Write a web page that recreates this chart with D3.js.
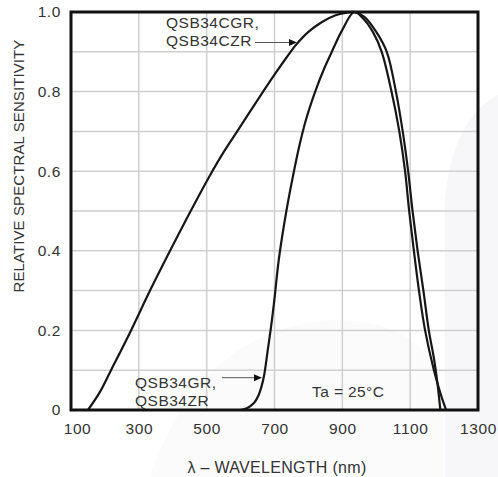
<!DOCTYPE html>
<html><head><meta charset="utf-8">
<script src="https://cdn.jsdelivr.net/npm/d3@7"></script>
<style>
html,body{margin:0;padding:0;background:#fff;}
svg{display:block;font-family:"Liberation Sans",Arial,Helvetica,sans-serif;}
</style></head>
<body><svg id="c" width="498" height="477"></svg>
<script>
// Wavelength (nm) and relative sensitivity
const wlCGR  = [150,185,218,277,333,392,451,510,550,590,651,702,735,764,800,840,880,910,935,965,1000,1031,1058,1078,1094,1107,1122,1139,1155,1170,1180,1189];
const valCGR = [0,0.045,0.1,0.2,0.3,0.4,0.497,0.59,0.648,0.70,0.78,0.845,0.885,0.918,0.95,0.975,0.992,0.998,1.0,0.988,0.95,0.9,0.8,0.7,0.6,0.5,0.4,0.3,0.2,0.13,0.07,0];
const wlGR   = [600,620,640,652,662,670,680,690,700,713,735,755,775,793,820,845,869,900,935,960,990,1016,1045,1068,1085,1097,1111,1126,1144,1170,1190,1206];
const valGR  = [0,0.005,0.018,0.035,0.06,0.09,0.15,0.21,0.28,0.38,0.5,0.59,0.67,0.73,0.8,0.855,0.9,0.955,1.0,0.985,0.95,0.9,0.8,0.7,0.6,0.5,0.4,0.3,0.2,0.1,0.04,0];
const xTicks = [100,300,500,700,900,1100,1300];
const yTicks = [0,0.2,0.4,0.6,0.8,1.0];
const xGrid  = [300,500,700,900,1100];
const yGrid  = [0.1,0.2,0.3,0.4,0.5,0.6,0.7,0.8,0.9];

const svg = d3.select("#c");
const x = d3.scaleLinear().domain([100,1300]).range([71,478]);
const y = d3.scaleLinear().domain([0,1]).range([410,12]);

// faint background watermark shapes
svg.append("path").attr("d","M445,477 L445,200 Q452,120 498,95 L498,477 Z").attr("fill","#f7f6f9");
svg.append("path").attr("d","M150,477 Q200,330 330,320 Q430,318 445,400 L445,477 Z").attr("fill","#fbfbfc");

// grid
svg.append("g").selectAll("line").data(xGrid).join("line")
  .attr("x1",d=>x(d)).attr("x2",d=>x(d)).attr("y1",y(0)).attr("y2",y(1))
  .attr("stroke","#cfcfcf").attr("stroke-width",1.5);
svg.append("g").selectAll("line").data(yGrid).join("line")
  .attr("y1",d=>y(d)).attr("y2",d=>y(d)).attr("x1",x(100)).attr("x2",x(1300))
  .attr("stroke","#cfcfcf").attr("stroke-width",1.5);

// curves
const line = d3.line().x(d=>x(d[0])).y(d=>y(d[1])).curve(d3.curveCatmullRom.alpha(0.5));
svg.append("path").datum(wlCGR.map((w,i)=>[w,valCGR[i]])).attr("d",line)
  .attr("fill","none").attr("stroke","#161616").attr("stroke-width",2.2);
svg.append("path").datum(wlGR.map((w,i)=>[w,valGR[i]])).attr("d",line)
  .attr("fill","none").attr("stroke","#161616").attr("stroke-width",2.2);

// frame
svg.append("rect").attr("x",x(100)).attr("y",y(1)).attr("width",x(1300)-x(100)).attr("height",y(0)-y(1))
  .attr("fill","none").attr("stroke","#111").attr("stroke-width",3);

// axes
const fmt = d=> d===0 ? "0" : d3.format(".1f")(d);
const ya = svg.append("g").attr("transform",`translate(${x(100)},0)`)
  .call(d3.axisLeft(y).tickValues(yTicks).tickFormat(fmt).tickSize(0).tickPadding(10));
const xa = svg.append("g").attr("transform",`translate(0,${y(0)})`)
  .call(d3.axisBottom(x).tickValues(xTicks).tickFormat(d3.format("d")).tickSize(0).tickPadding(13));
[ya,xa].forEach(a=>{a.select(".domain").remove();
  a.selectAll("text").attr("font-size",15.5).attr("fill","#333").attr("font-family","Liberation Sans, Arial, sans-serif").style("letter-spacing","0.6px");});
xa.selectAll("text").filter(d=>d===100).attr("dx",6);

// titles
svg.append("text").attr("x",277).attr("y",473).attr("text-anchor","middle")
  .attr("font-size",16).attr("fill","#333").style("letter-spacing","0.3px").text("λ – WAVELENGTH (nm)");
svg.append("text").attr("transform","translate(24,166) rotate(-90)").attr("text-anchor","middle")
  .attr("font-size",15).attr("fill","#333").style("letter-spacing","0.1px").text("RELATIVE SPECTRAL SENSITIVITY");

// annotations
const ann = (lines,x0,y0)=>{const t=svg.append("text").attr("font-size",15.5).attr("fill","#333").style("letter-spacing","0.5px");
  lines.forEach((s,i)=>t.append("tspan").attr("x",x0).attr("y",y0+i*17.5).text(s));};
ann(["QSB34CGR,","QSB34CZR"],166,28);
ann(["QSB34GR,","QSB34ZR"],135,388);
svg.append("text").attr("x",312).attr("y",397).attr("font-size",15.5).attr("fill","#333").style("letter-spacing","0.4px").text("Ta = 25°C");

const arrow = (x1,x2,yy)=>{
  svg.append("line").attr("x1",x1).attr("x2",x2-6).attr("y1",yy).attr("y2",yy).attr("stroke","#555").attr("stroke-width",1);
  svg.append("path").attr("d",`M${x2},${yy} L${x2-8},${yy-3.5} L${x2-8},${yy+3.5} Z`).attr("fill","#111");
};
arrow(255,297,42.5);
arrow(222,262,377.7);
</script></body></html>
